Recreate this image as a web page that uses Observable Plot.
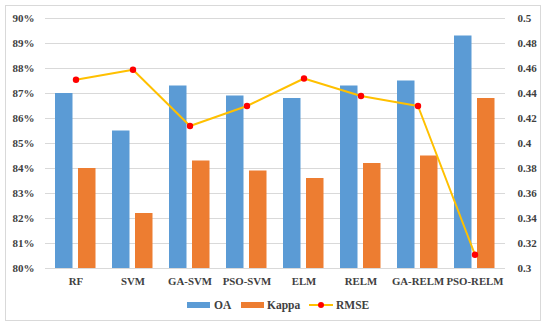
<!DOCTYPE html>
<html>
<head>
<meta charset="utf-8">
<script src="https://cdn.jsdelivr.net/npm/d3@7"></script>
<script src="https://cdn.jsdelivr.net/npm/@observablehq/plot@0.6"></script>
<style>
  html, body { margin: 0; padding: 0; background: #fff; }
  #wrap { position: relative; width: 550px; height: 328px; overflow: hidden;
          font-family: "Liberation Serif", "DejaVu Serif", serif; font-weight: bold; color: #404040; }
  #frame { position: absolute; left: 5px; top: 5px; width: 536px; height: 316px;
           border: 1px solid #d9d9d9; box-sizing: border-box; }
  #chart { position: absolute; left: 0; top: 0; }
  #chart svg text { font-family: "Liberation Serif", "DejaVu Serif", serif !important; font-weight: bold; }
  .lg { position: absolute; }
  .lgt { position: absolute; font-size: 11.5px; line-height: 12px; top: 299px; }
</style>
</head>
<body>
<div id="wrap">
  <div id="frame"></div>
  <div id="chart"></div>
  <div class="lg" style="left:187px;top:302px;width:23px;height:6px;background:#5B9BD5"></div>
  <div class="lgt" style="left:214px">OA</div>
  <div class="lg" style="left:241px;top:302px;width:23px;height:6px;background:#ED7D31"></div>
  <div class="lgt" style="left:267px">Kappa</div>
  <div class="lg" style="left:309px;top:304px;width:24px;height:2px;background:#FFC000"></div>
  <div class="lg" style="left:318px;top:302px;width:6px;height:6px;border-radius:50%;background:#FF0000"></div>
  <div class="lgt" style="left:336px">RMSE</div>
</div>
<script>
const categories = ["RF", "SVM", "GA-SVM", "PSO-SVM", "ELM", "RELM", "GA-RELM", "PSO-RELM"];
const oa    = [87.0, 85.5, 87.3, 86.9, 86.8, 87.3, 87.5, 89.3];
const kappa = [84.0, 82.2, 84.3, 83.9, 83.6, 84.2, 84.5, 86.8];
const rmse  = [0.451, 0.459, 0.414, 0.430, 0.452, 0.438, 0.430, 0.311];
const leftTicks  = [80, 81, 82, 83, 84, 85, 86, 87, 88, 89, 90];
const rightTicks = [0.3, 0.32, 0.34, 0.36, 0.38, 0.4, 0.42, 0.44, 0.46, 0.48, 0.5];

// map RMSE (right axis 0.3–0.5) onto the left scale (80–90)
const toLeft = r => 80 + (r - 0.3) * 50;

const rows = categories.map((c, i) => ({cat: c, oa: oa[i], kappa: kappa[i], rmse: rmse[i], r: toLeft(rmse[i])}));

const chart = Plot.plot({
  width: 550,
  height: 295,
  marginLeft: 45,
  marginRight: 45,
  marginTop: 18,
  marginBottom: 27,
  style: {fontFamily: "'Liberation Serif', 'DejaVu Serif', serif", fontWeight: "bold", fontSize: "11px", color: "#404040", background: "transparent"},
  x: {domain: categories, padding: 0, axis: null, label: null},
  y: {domain: [80, 90], axis: null, label: null},
  marks: [
    Plot.gridY(leftTicks, {stroke: "#d9d9d9", strokeOpacity: 1, strokeWidth: 1}),
    Plot.barY(rows, {x: "cat", y1: 80, y2: "oa", fill: "#5B9BD5", insetLeft: 8, insetRight: 31.5}),
    Plot.barY(rows, {x: "cat", y1: 80, y2: "kappa", fill: "#ED7D31", insetLeft: 31, insetRight: 8.5}),
    Plot.line(rows, {x: "cat", y: "r", stroke: "#FFC000", strokeWidth: 2}),
    Plot.dot(rows, {x: "cat", y: "r", fill: "#FF0000", r: 3.2}),
    Plot.axisY({anchor: "left", ticks: leftTicks, tickSize: 0, tickPadding: 11, tickFormat: d => d + "%", fontSize: 11, label: null}),
    Plot.axisY({anchor: "right", ticks: rightTicks.map(toLeft), tickSize: 0, tickPadding: 12,
                tickFormat: (d, i) => String(rightTicks[i]), fontSize: 11, label: null}),
    Plot.axisX({anchor: "bottom", tickSize: 0, tickPadding: 9, fontSize: 10.8, label: null})
  ]
});
document.getElementById("chart").appendChild(chart);
</script>
</body>
</html>
